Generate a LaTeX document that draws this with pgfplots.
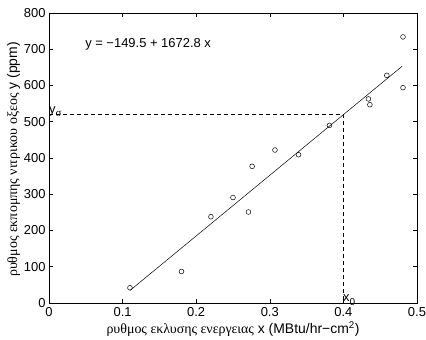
\documentclass[border=0pt]{standalone}
\usepackage{pgfplots}
\pgfplotsset{compat=1.18}
\usepackage{fontspec}
\setmainfont{Liberation Sans}
\newfontfamily\gr{Liberation Serif}
\begin{document}
\begin{tikzpicture}[x=1bp,y=1bp]
\begin{axis}[
  name=ax,
  scale only axis,
  width=368bp, height=290bp,
  xmin=0, xmax=0.5, ymin=0, ymax=800,
  xtick={0,0.1,0.2,0.3,0.4,0.5},
  xticklabels={0,0.1,0.2,0.3,0.4,0.5},
  ytick={0,100,...,800},
  tick align=inside,
  major tick length=4bp,
  axis line style={line width=0.8pt},
  every tick/.style={line width=0.6pt, black},
  tick label style={font=\fontsize{13}{14}\selectfont},
  xticklabel style={yshift=-1bp},
  /pgf/number format/assume math mode=true,
  xlabel={{\gr ρυθμος εκλυσης ενεργειας} x (MBtu/hr−cm\textsuperscript{2})},
  ylabel={{\gr ρυθμος εκπομπης νιτρικου οξεος} y (ppm)},
  label style={font=\fontsize{14}{15}\selectfont},
  xlabel style={at={(axis description cs:0.5,-0.09)}, anchor=center},
  ylabel style={at={(axis description cs:-0.096,0.495)}, anchor=center},
  clip=false,
]
\addplot[only marks, mark=o, mark size=2.4bp, mark options={line width=0.5pt}] coordinates {
(0.11,42) (0.18,87) (0.22,238) (0.25,291) (0.271,251) (0.276,377)
(0.307,422) (0.339,409) (0.381,490) (0.434,563) (0.436,547)
(0.459,628) (0.481,734) (0.481,594)
};
\addplot[line width=0.5pt, black] coordinates {(0.11,34.5) (0.48,653.4)};
\addplot[dash pattern=on 4bp off 3bp, line width=0.5pt, black] coordinates {(0,520) (0.4,520) (0.4,0)};
\node[anchor=west, inner sep=0pt, font=\fontsize{13}{14}\selectfont] at (axis cs:0.049,714) {y = −149.5 + 1672.8 x};
\node[anchor=base west, inner sep=0pt, font=\fontsize{13}{14}\selectfont] at (axis cs:0.0,524) {y\raisebox{-3.5bp}{\fontsize{11}{12}\gr σ}};
\node[anchor=base west, inner sep=0pt, font=\fontsize{13}{14}\selectfont] at (axis cs:0.3995,3) {x\raisebox{-3.5bp}{\fontsize{10}{11}\selectfont 0}};
\end{axis}
\pgfresetboundingbox
\path[use as bounding box] ([shift={(-49bp,-37bp)}]ax.south west) rectangle ([shift={(9bp,13bp)}]ax.north east);
\end{tikzpicture}
\end{document}
